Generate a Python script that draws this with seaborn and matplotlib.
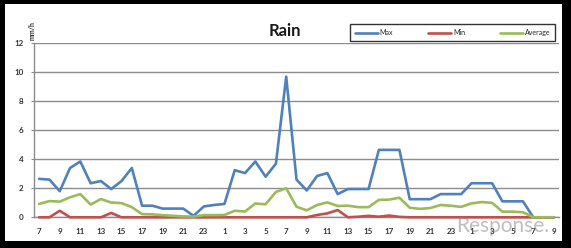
import numpy as np
import pandas as pd
import matplotlib
matplotlib.use("Agg")
import matplotlib.pyplot as plt
import seaborn as sns
from matplotlib.patches import Rectangle
from matplotlib.lines import Line2D

# ---- data ----
hours = list(range(7, 24)) + list(range(0, 24)) + list(range(0, 10))
max_vals = [2.65, 2.6, 1.8, 3.4, 3.85, 2.35, 2.5, 1.95, 2.5, 3.4,
            0.8, 0.8, 0.6, 0.6, 0.6, 0.1, 0.75, 0.85, 0.92, 3.25,
            3.05, 3.85, 2.8, 3.7, 9.7, 2.6, 1.85, 2.85, 3.05, 1.6,
            1.95, 1.95, 1.95, 4.65, 4.65, 4.65, 1.25, 1.25, 1.25, 1.6,
            1.6, 1.6, 2.35, 2.35, 2.35, 1.1, 1.1, 1.1, 0.0, 0.0, 0.0]
min_vals = [0.0, 0.0, 0.45, 0.0, 0.0, 0.0, 0.0, 0.3, 0.0, 0.0,
            0.0, 0.0, 0.0, 0.0, 0.0, 0.0, 0.0, 0.0, 0.0, 0.0,
            0.0, 0.0, 0.0, 0.0, 0.0, 0.0, 0.0, 0.16, 0.27, 0.5,
            0.0, 0.04, 0.1, 0.04, 0.12, 0.03, 0.0, 0.0, 0.0, 0.0,
            0.0, 0.0, 0.0, 0.0, 0.0, 0.0, 0.0, 0.0, 0.0, 0.0, 0.0]
avg_vals = [0.92, 1.12, 1.08, 1.38, 1.6, 0.88, 1.26, 1.02, 0.98, 0.7,
            0.22, 0.2, 0.15, 0.1, 0.06, 0.05, 0.15, 0.15, 0.16, 0.45,
            0.4, 0.95, 0.9, 1.75, 2.0, 0.73, 0.48, 0.85, 1.03, 0.78,
            0.8, 0.7, 0.7, 1.2, 1.22, 1.35, 0.66, 0.58, 0.64, 0.85,
            0.8, 0.72, 0.96, 1.05, 1.0, 0.39, 0.39, 0.35, 0.0, 0.0, 0.0]
series_names = ["Max", "Min", "Average"]
series_colors = ["#4F81BD", "#C0504D", "#9BBB59"]
y_ticks = [0, 2, 4, 6, 8, 10, 12]
title = "Rain"
unit = "mm/h"

n = len(hours)
df = pd.DataFrame({
    "idx": np.tile(np.arange(n), 3),
    "value": max_vals + min_vals + avg_vals,
    "series": np.repeat(series_names, n),
})

sns.set_style("white")
plt.rcParams["font.family"] = ["Lato", "DejaVu Sans"]

W, H = 571, 248
fig = plt.figure(figsize=(W / 100, H / 100), dpi=100)
fig.patches.append(Rectangle((0, 0), 1, 1, transform=fig.transFigure,
                             facecolor="black", edgecolor="none", zorder=-10))
fig.patches.append(Rectangle((5 / W, 7 / H), 557 / W, 237 / H, transform=fig.transFigure,
                             facecolor="white", edgecolor="none", zorder=-9))

ax = fig.add_axes([34 / W, 1 - 217.3 / H, (559 - 34) / W, (217.3 - 43.3) / H])
ax.set_facecolor("none")

sns.lineplot(data=df, x="idx", y="value", hue="series", hue_order=series_names,
             palette=series_colors, linewidth=1.9, ax=ax, legend=False)
for ln in ax.lines:
    ln.set_clip_on(False)
    ln.set_solid_joinstyle("round")
    ln.set_zorder(3)

grid_c = "#8c8c8c"
ax.set_xlim(-0.5, n - 0.5)
ax.set_ylim(0, 12)
ax.set_yticks(y_ticks)
ax.set_yticklabels([str(v) for v in y_ticks])
ax.yaxis.grid(True, color=grid_c, linewidth=1.0)
ax.xaxis.grid(False)
ax.set_axisbelow(True)

major = np.arange(0, n, 2)
ax.set_xticks(major)
ax.set_xticklabels([str(hours[i]) for i in major], fontweight="bold")
ax.set_xticks(np.arange(-0.5, n, 1), minor=True)
ax.tick_params(axis="x", which="major", length=0, pad=8, labelsize=5.8, labelcolor="#333333")
ax.tick_params(axis="x", which="minor", length=2.5, width=0.8, color=grid_c, direction="out")
ax.tick_params(axis="y", which="major", length=2.5, width=0.8, color=grid_c, direction="out",
               pad=5, labelsize=5.8, labelcolor="#333333", left=True)
for t in ax.get_yticklabels():
    t.set_fontweight("bold")
ax.set_xlabel("")
ax.set_ylabel("")
for s in ["top", "right"]:
    ax.spines[s].set_visible(False)
for s in ["left", "bottom"]:
    ax.spines[s].set_color(grid_c)
    ax.spines[s].set_linewidth(1.0)

fig.text(285 / W, 1 - 31 / H, title, ha="center", va="center", fontsize=12, fontweight="bold",
         color="#1a1a1a")
fig.text(32 / W, 1 - 31 / H, unit, rotation=90, ha="center", va="center", fontsize=5,
         color="#333333", fontweight="bold")

handles = [Line2D([], [], color=c, linewidth=1.9) for c in series_colors]
leg = fig.legend(handles, series_names, loc="center",
                 bbox_to_anchor=(358 / W, 1 - 41 / H, 197 / W, 17 / H),
                 mode="expand", ncol=3, fontsize=5, frameon=True, fancybox=False,
                 handlelength=3.4, handletextpad=0.2, borderaxespad=0, borderpad=0.7)
leg.get_frame().set_edgecolor("black")
leg.get_frame().set_linewidth(1.0)
# keep the frame at the reference box width
leg.set_bbox_to_anchor((350 / W, 1 - 41 / H, 205 / W, 17 / H), transform=fig.transFigure)

fig.text(503 / W, 1 - 226 / H, "Response.", ha="center", va="center", fontsize=15,
         color="#7f7f7f", alpha=0.5)

fig.savefig("out.png", dpi=100)
